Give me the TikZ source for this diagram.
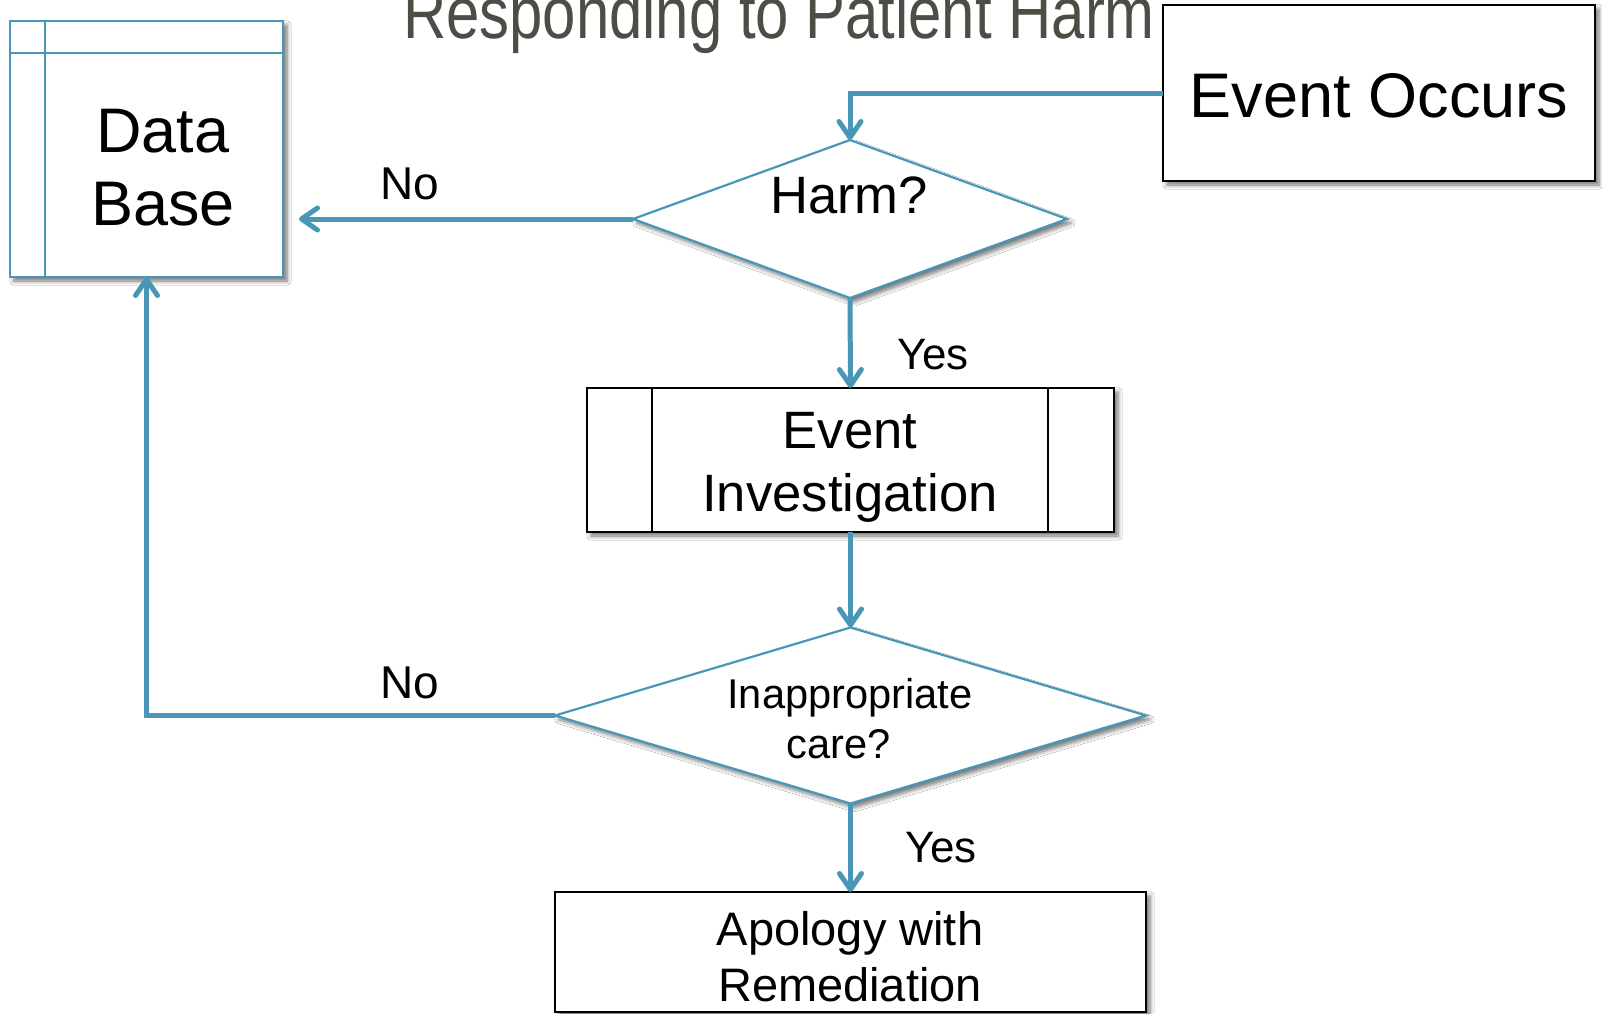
\documentclass[tikz,border=0pt]{standalone}
\usepackage{fontspec}
\setmainfont{Liberation Sans}
\newfontfamily\titlefont[FakeStretch=0.82]{Liberation Sans}
\usetikzlibrary{shapes.geometric,arrows.meta,shadows.blur,calc}
\definecolor{flow}{RGB}{74,150,182}
\definecolor{titlegray}{RGB}{77,77,69}
\begin{document}
\begin{tikzpicture}[x=0.5pt,y=-0.5pt,
  shad/.style={blur shadow={shadow xshift=2pt,shadow yshift=-2pt,shadow blur steps=6,shadow opacity=55}},
  box/.style={rectangle,draw=black,line width=1.3pt,fill=white,inner sep=0pt,outer sep=0pt,shad},
  dbox/.style={box,draw=flow},
  decision/.style={diamond,draw=flow,line width=1.1pt,fill=white,inner sep=0pt,outer sep=0pt,shad},
  conn/.style={draw=flow,line width=2.5pt,-{Straight Barb[length=8pt,width=11pt,round]}},
  inner/.style={line width=1.2pt},
  txt/.style={anchor=base,inner sep=0pt,outer sep=0pt,text=black},
  big/.style={font=\fontsize{31.5pt}{37pt}\selectfont},
  mid/.style={font=\fontsize{26.3pt}{31pt}\selectfont},
  appf/.style={font=\fontsize{23.5pt}{28pt}\selectfont},
  small/.style={font=\fontsize{20.8pt}{25pt}\selectfont},
  lab/.style={font=\fontsize{23pt}{27pt}\selectfont},
  laby/.style={font=\fontsize{22pt}{26pt}\selectfont}]
\useasboundingbox (0,0) rectangle (1602,1013);
\fill[white] (0,0) rectangle (1602,1013);

% title
\node[txt,text=titlegray,font=\titlefont\fontsize{36.5pt}{40pt}\selectfont] (title) at (779,38) {Responding to Patient Harm};

% shapes
\node[dbox,minimum width=136.5pt,minimum height=128pt] (db) at (146.5,149) {};
\draw[flow,inner] ($(db.north west)+(35,0)$) -- ($(db.south west)+(35,0)$);
\draw[flow,inner] ($(db.north west)+(0,32)$) -- ($(db.north east)+(0,32)$);

\node[box,minimum width=216pt,minimum height=88pt] (eo) at (1379,93) {};
\node[decision,minimum width=217pt,minimum height=79pt] (harm) at (850,219) {};
\node[box,minimum width=263.5pt,minimum height=72pt] (inv) at (850.5,460) {};
\draw[inner] ($(inv.north west)+(65,0)$) -- ($(inv.south west)+(65,0)$);
\draw[inner] ($(inv.north east)+(-66,0)$) -- ($(inv.south east)+(-66,0)$);
\node[decision,minimum width=295.5pt,minimum height=88pt] (ic) at (850.5,715.5) {};
\node[box,minimum width=295.5pt,minimum height=60pt] (ap) at (850.5,952) {};

% texts
\node[txt,big] (dbt1) at (163,152) {Data};
\node[txt,big] (dbt2) at (163,225) {Base};
\node[txt,big] (eot) at (1379,117) {Event Occurs};
\node[txt,mid] (harmt) at (849,213) {Harm?};
\node[txt,mid] (invt1) at (850,448) {Event};
\node[txt,mid] (invt2) at (850,511) {Investigation};
\node[txt,small] (ict1) at (850,708) {Inappropriate};
\node[txt,small] (ict2) at (839,758) {care?};
\node[txt,appf] (apt1) at (850,945) {Apology with};
\node[txt,appf] (apt2) at (850,1001) {Remediation};

% connectors
\coordinate (corner) at (harm.north |- eo.west);
\coordinate (dbin) at (harm.west -| db.east);
\draw[conn] (eo.west) -- (corner) -- (harm.north);
\draw[conn,shorten >=8pt] (harm.west) -- (dbin);
\draw[conn] (harm.south) -- (inv.north);
\draw[conn] (inv.south) -- (ic.north);
\draw[conn] (ic.west) -| (db.south);
\draw[conn] (ic.south) -- (ap.north);

% labels
\node[txt,lab] (no1) at (410,199) {No};
\node[txt,laby] (yes1) at (933,369) {Yes};
\node[txt,lab] (no2) at (410,698) {No};
\node[txt,laby] (yes2) at (941,862) {Yes};
\end{tikzpicture}
\end{document}
